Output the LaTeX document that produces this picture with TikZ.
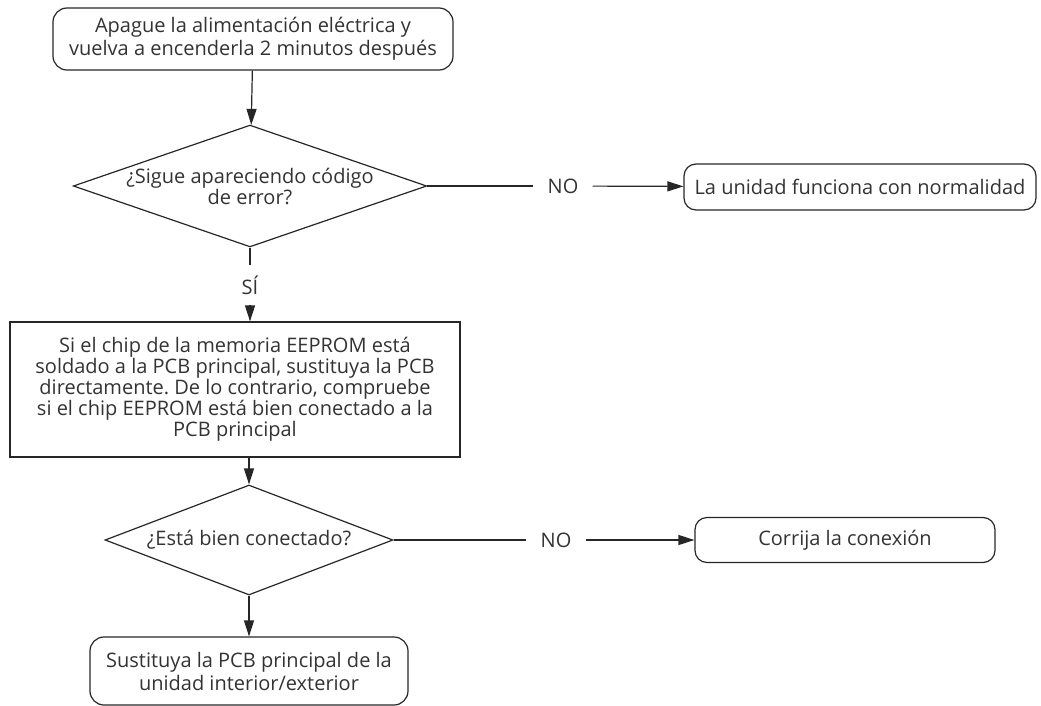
\documentclass[tikz,border=0pt]{standalone}
\usepackage{fontspec}
\setmainfont{Open Sans}
\frenchspacing
\usetikzlibrary{shapes.geometric,arrows.meta}
\begin{document}
\begin{tikzpicture}[x=1pt,y=-1pt,
  txt/.style={font=\fontsize{20}{21}\selectfont,text=black!80,align=center},
  term/.style={txt,draw=black!85,line width=1.2pt,rounded corners=14pt,inner sep=0pt},
  proc/.style={txt,draw=black!85,line width=1.2pt,inner sep=0pt},
  dec/.style={txt,draw=black!85,line width=1.2pt,diamond,aspect=2.9,inner sep=0pt},
  lbl/.style={txt,inner xsep=14pt,inner ysep=14pt},
  arr/.style={draw=black!85,line width=1.2pt,-{Triangle[length=16pt,width=10pt]}},
  ln/.style={draw=black!85,line width=1.2pt}]
\useasboundingbox (0,0) rectangle (1041,706);
\node[term,minimum width=400pt,minimum height=62pt,font=\fontsize{20}{23}\selectfont] (start) at (253,39) {Apague la alimentación eléctrica y\\vuelva a encenderla 2 minutos después};
\node[dec,minimum width=350pt,minimum height=121pt] (d1) at (250,186) {¿Sigue apareciendo código\\de error?};
\node[lbl] (no1) at (563,186) {NO};
\node[term,rounded corners=12pt,minimum width=352pt,minimum height=46pt] (ok) at (860,187) {La unidad funciona con normalidad};
\node[lbl,inner ysep=10pt] (si) at (250,285) {SÍ};
\node[proc,minimum width=450pt,minimum height=135pt] (check) at (235,389.5) {Si el chip de la memoria EEPROM está\\soldado a la PCB principal, sustituya la PCB\\directamente. De lo contrario, compruebe\\si el chip EEPROM está bien conectado a la\\PCB principal};
\node[dec,minimum width=288pt,minimum height=110pt] (d2) at (249,540) {¿Está bien conectado?};
\node[lbl] (no2) at (556,540) {NO};
\node[term,rounded corners=12pt,minimum width=300pt,minimum height=45pt] (fix) at (845,540) {Corrija la conexión};
\node[term,minimum width=318pt,minimum height=68pt,font=\fontsize{20}{23}\selectfont] (repl) at (249,671) {Sustituya la PCB principal de la\\unidad interior/exterior};
\draw[arr] (start) -- (d1);
\draw[ln] (d1) -- (no1);
\draw[arr] (no1) -- (ok);
\draw[ln] (d1) -- (si);
\draw[arr] (si) -- (si |- check.north);
\draw[arr] (check.south -| d2) -- (d2);
\draw[ln] (d2) -- (no2);
\draw[arr] (no2) -- (fix);
\draw[arr] (d2) -- (repl);
\end{tikzpicture}
\end{document}
